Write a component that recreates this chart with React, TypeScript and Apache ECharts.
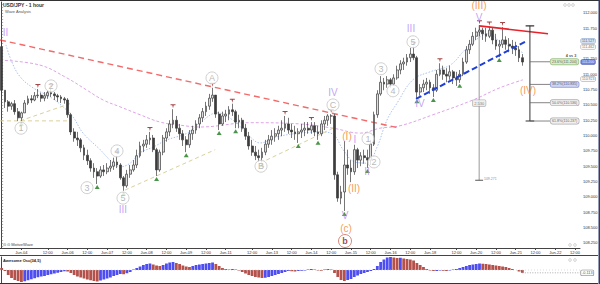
import React, { useEffect, useRef } from 'react';
import * as echarts from 'echarts';

// trading sessions (day label, first hour, last hour) – 2-hour bars
const sessions: [string, number, number][] = [
  ['Jun-02', 12, 22], ['Jun-04', 20, 22], ['Jun-05', 0, 22], ['Jun-06', 0, 22], ['Jun-07', 0, 22],
  ['Jun-08', 0, 22], ['Jun-09', 0, 22], ['Jun-11', 20, 22], ['Jun-12', 0, 22], ['Jun-13', 0, 22],
  ['Jun-14', 0, 22], ['Jun-15', 0, 22], ['Jun-16', 0, 22], ['Jun-18', 20, 22], ['Jun-19', 0, 22],
  ['Jun-20', 0, 22], ['Jun-21', 0, 22], ['Jun-22', 0, 14],
];

// visible price labels (111.500 is hidden behind the price tags, as in the reference)
const priceTicks = [108.25, 108.5, 108.75, 109, 109.25, 109.5, 109.75, 110, 110.25, 110.5, 110.75, 111, 111.25, 111.75, 112];

const firstOpen = 111.45;
const closes = [
  110.74, 110.55, 110.48, 110.52, 110.39, 110.29, 110.37, 110.53, 110.60, 110.58,
  110.65, 110.66, 110.61, 110.65, 110.70, 110.68, 110.65, 110.63, 110.60, 110.58,
  110.34, 110.06, 109.96, 109.93, 109.80, 109.68, 109.59, 109.47, 109.41, 109.34,
  109.44, 109.41, 109.47, 109.50, 109.57, 109.52, 109.31, 109.18, 109.37, 109.44,
  109.52, 109.67, 109.83, 109.86, 109.93, 109.96, 109.77, 109.44, 109.73, 109.96,
  110.06, 110.19, 110.25, 110.12, 110.03, 109.93, 109.85, 110.03, 110.09, 110.19,
  110.29, 110.39, 110.48, 110.61, 110.66, 110.35, 110.19, 110.32, 110.35, 110.42,
  110.39, 110.22, 110.25, 110.12, 109.99, 109.83, 109.73, 109.67, 109.64, 109.73,
  109.86, 109.93, 109.99, 110.03, 110.09, 110.12, 110.19, 110.09, 110.06, 110.03,
  110.06, 110.09, 110.12, 110.09, 110.16, 110.06, 110.03, 110.19, 110.25, 110.32,
  110.32, 109.36, 108.98, 109.08, 109.52, 109.47, 109.41, 109.77, 109.60, 109.67,
  109.64, 109.60, 109.86, 110.34, 110.68, 110.87, 110.84, 110.91, 110.84, 110.94,
  111.07, 111.17, 111.20, 111.27, 111.33, 111.27, 110.71, 110.78, 110.84, 110.87,
  110.78, 110.74, 111.00, 111.07, 111.00, 110.97, 111.04, 110.94, 110.91, 111.00,
  111.20, 111.40, 111.49, 111.62, 111.69, 111.72, 111.66, 111.62, 111.72, 111.56,
  111.46, 111.49, 111.56, 111.49, 111.46, 111.43, 111.40, 111.27, 111.20,
];
const highs = [
  111.56, 110.71, 110.58, 110.55, 110.58, 110.45, 110.39, 110.58, 110.65, 110.66,
  110.71, 110.76, 110.70, 110.71, 110.73, 110.76, 110.71, 110.68, 110.66, 110.63,
  110.61, 110.37, 110.12, 110.06, 109.96, 109.85, 109.77, 109.63, 109.55, 109.47,
  109.50, 109.52, 109.55, 109.60, 109.64, 109.67, 109.55, 109.34, 109.44, 109.52,
  109.60, 109.77, 109.90, 109.93, 110.01, 110.06, 110.01, 109.80, 109.77, 110.01,
  110.12, 110.25, 110.43, 110.32, 110.19, 110.09, 109.99, 110.09, 110.16, 110.25,
  110.35, 110.45, 110.55, 110.68, 110.78, 110.66, 110.39, 110.39, 110.42, 110.48,
  110.52, 110.42, 110.34, 110.29, 110.19, 110.06, 109.93, 109.83, 109.77, 109.80,
  109.93, 110.01, 110.09, 110.12, 110.16, 110.25, 110.32, 110.29, 110.19, 110.16,
  110.12, 110.19, 110.22, 110.22, 110.22, 110.22, 110.16, 110.25, 110.32, 110.35,
  110.35, 110.35, 109.41, 109.18, 109.91, 109.77, 109.60, 109.85, 109.80, 109.73,
  109.77, 109.77, 109.93, 110.39, 110.74, 110.97, 110.94, 110.97, 110.94, 111.00,
  111.14, 111.23, 111.27, 111.33, 111.43, 111.45, 111.30, 110.84, 110.91, 110.94,
  110.91, 110.84, 111.07, 111.18, 111.14, 111.10, 111.14, 111.07, 111.04, 111.07,
  111.27, 111.46, 111.56, 111.69, 111.76, 111.80, 111.76, 111.76, 111.78, 111.76,
  111.66, 111.56, 111.77, 111.62, 111.59, 111.56, 111.53, 111.46, 111.33,
];
const lows = [
  110.66, 110.45, 110.39, 110.42, 110.34, 110.24, 110.24, 110.37, 110.50, 110.53,
  110.56, 110.61, 110.55, 110.56, 110.60, 110.63, 110.58, 110.55, 110.53, 110.52,
  110.29, 110.01, 109.90, 109.83, 109.73, 109.60, 109.52, 109.41, 109.31, 109.21,
  109.31, 109.34, 109.37, 109.41, 109.44, 109.47, 109.28, 109.10, 109.15, 109.31,
  109.41, 109.47, 109.64, 109.73, 109.80, 109.85, 109.73, 109.34, 109.41, 109.68,
  109.90, 109.99, 110.12, 110.06, 109.93, 109.83, 109.73, 109.80, 109.93, 110.03,
  110.12, 110.22, 110.32, 110.42, 110.55, 110.29, 110.09, 110.16, 110.22, 110.25,
  110.32, 110.12, 110.12, 110.06, 109.93, 109.77, 109.67, 109.60, 109.57, 109.57,
  109.68, 109.80, 109.85, 109.90, 109.93, 109.99, 110.06, 110.03, 109.96, 109.93,
  109.88, 109.96, 109.99, 110.03, 110.03, 109.99, 109.93, 109.99, 110.09, 110.16,
  110.19, 109.28, 108.92, 108.88, 108.77, 109.36, 109.24, 109.36, 109.47, 109.50,
  109.54, 109.47, 109.52, 109.83, 110.29, 110.65, 110.74, 110.78, 110.78, 110.81,
  110.91, 111.00, 111.07, 111.14, 111.20, 111.23, 110.61, 110.65, 110.71, 110.74,
  110.68, 110.63, 110.71, 110.97, 110.91, 110.87, 110.91, 110.84, 110.81, 110.86,
  110.97, 111.17, 111.33, 111.46, 111.56, 111.62, 111.56, 111.53, 111.59, 111.49,
  111.40, 111.28, 111.43, 111.40, 111.36, 111.33, 111.30, 111.20, 111.14,
];

// Awesome Oscillator (34,5)
const aoValues = [
  0.08, -0.04, -0.20, -0.32, -0.40, -0.44, -0.48, -0.45, -0.41, -0.37,
  -0.33, -0.29, -0.26, -0.24, -0.20, -0.17, -0.14, -0.11, -0.08, -0.05,
  -0.06, -0.12, -0.20, -0.26, -0.30, -0.34, -0.38, -0.41, -0.44, -0.46,
  -0.42, -0.38, -0.34, -0.30, -0.24, -0.20, -0.16, -0.17, -0.13, -0.08,
  0.02, 0.08, 0.14, 0.20, 0.24, 0.26, 0.22, 0.18, 0.16, 0.20,
  0.26, 0.30, 0.32, 0.28, 0.24, 0.18, 0.14, 0.12, 0.16, 0.20,
  0.22, 0.24, 0.26, 0.28, 0.30, 0.24, 0.16, 0.08, 0.04, 0.02,
  0.04, 0.02, -0.02, -0.08, -0.14, -0.20, -0.24, -0.28, -0.30, -0.32,
  -0.31, -0.28, -0.24, -0.20, -0.16, -0.12, -0.08, -0.04, -0.05, -0.06,
  -0.04, -0.03, -0.02, 0.02, 0.04, 0.02, -0.02, -0.03, 0.02, 0.04,
  0.02, -0.12, -0.28, -0.40, -0.44, -0.40, -0.36, -0.28, -0.22, -0.16,
  -0.12, -0.08, -0.04, 0.04, 0.16, 0.32, 0.42, 0.50, 0.52, 0.50,
  0.48, 0.49, 0.46, 0.44, 0.42, 0.38, 0.28, 0.20, 0.12, 0.04,
  -0.02, -0.04, -0.04, -0.02, -0.03, -0.04, -0.02, 0.02, 0.04, 0.08,
  0.12, 0.16, 0.20, 0.22, 0.24, 0.26, 0.25, 0.24, 0.22, 0.20,
  0.18, 0.16, 0.14, 0.12, 0.08, 0.04, 0.00, -0.06, -0.113,
];

// swing markers (bar indices)
const swingHighIdx = [11, 15, 35, 45, 52, 64, 70, 86, 94, 100, 125, 133, 145, 148, 152];
const swingLowIdx = [6, 29, 37, 47, 56, 66, 71, 79, 90, 96, 104, 111, 126, 131, 139, 151];

// moving averages [bar position, price]
const fastMA: [number, number][] = [
  [1.3, 111.48], [3.1, 111.2], [5.6, 110.96], [9.5, 110.78], [14.7, 110.63], [18.6, 110.47],
  [21.7, 110.3], [24.7, 110.04], [29.9, 109.77], [32.9, 109.6], [35.9, 109.49], [39.0, 109.55],
  [42.0, 109.72], [45.9, 109.81], [50.2, 109.93], [56.3, 110.04], [60.2, 110.21], [65.4, 110.37],
  [70.2, 110.25], [75.4, 109.98], [78.4, 109.88], [83.6, 109.98], [90.5, 110.04], [96.6, 110.06],
  [100.6, 110.02], [103.6, 109.77], [107.2, 109.57], [110.9, 109.55], [113.9, 109.81],
  [116.9, 110.25], [120.0, 110.53], [124.8, 110.91], [130.0, 111.04], [136.1, 111.15],
  [140.6, 111.4], [145.2, 111.61], [148.2, 111.66], [151.2, 111.53], [156.4, 111.4], [158.2, 111.35],
];
const slowMA: [number, number][] = [
  [-0.5, 111.23], [11.6, 111.15], [19.8, 110.94], [25.9, 110.74], [30.8, 110.58], [35.9, 110.47],
  [42.0, 110.34], [48.1, 110.22], [54.1, 110.17], [60.2, 110.14], [75.4, 110.21], [90.5, 110.19],
  [100.6, 110.12], [108.8, 110.04], [114.8, 110.12], [120.9, 110.16], [130.9, 110.34],
  [143.0, 110.58], [151.2, 110.78], [158.2, 110.91],
];

// trend lines [bar position, price]
const resistanceDashed: [number, number][] = [[-0.5, 111.56], [120.9, 110.12]];
const resistanceSolid: [number, number][] = [[144.9, 111.79], [165.8, 111.66]];
const supportBlue: [number, number][] = [[125.75, 110.6], [158.8, 111.53]];
const channelLines: [number, number][][] = [
  [[-0.5, 110.24], [19.8, 110.24]],
  [[5.6, 110.24], [20.7, 110.52]],
  [[37.4, 109.11], [64.8, 109.77]],
  [[78.4, 109.55], [100.55, 110.12]],
];

// wave labels [text, bar position, price]
const minorLabels: [string, number, number][] = [
  ['II', 1.17, 111.68], ['III', 36.82, 108.8], ['IV', 100.55, 110.7], ['V', 104.19, 108.69],
  ['I', 107.22, 109.93], ['II', 110.86, 109.41], ['III', 124.22, 111.74], ['IV', 126.95, 110.53],
  ['V', 144.85, 111.93],
];
const majorLabels: [string, number, number][] = [
  ['(III)', 144.85, 112.125], ['(I)', 104.8, 109.98], ['(II)', 106.92, 109.13],
  ['(c)', 104.49, 108.48], ['(IV)', 159.7, 110.73],
];
const circledLabels: [string, number, number][] = [
  ['1', 5.87, 110.12], ['2', 14.98, 110.81], ['3', 25.9, 109.15], ['4', 35.0, 109.75],
  ['5', 36.82, 108.98], ['A', 63.83, 110.94], ['B', 78.7, 109.5], ['C', 100.55, 110.5],
  ['1', 111.17, 109.95], ['2', 112.99, 109.57], ['3', 115.11, 111.09], ['4', 118.75, 110.73],
  ['5', 124.82, 111.53],
];
const cycleLabels: [string, number, number][] = [['b', 104.19, 108.28]];

// wave (IV) retracement levels of wave (III)
const waveStart = 109.271;
const waveEnd = 111.801;
const fibRatios = [0.236, 0.382, 0.5, 0.618];
const fibColors = [
  { bg: '#cfe8bd', border: '#86b46a' },
  { bg: '#c3cbf2', border: '#6f7fc6' },
  { bg: '#ececec', border: '#9a9a9a' },
  { bg: '#ececec', border: '#9a9a9a' },
];
const priceTags = [
  { v: 111.527, bg: '#cfe0f5', border: '#6a8cc0', color: '#223', dy: -1 },
  { v: 111.462, bg: '#ffffff', border: '#888888', color: '#333', dy: 1 },
  { v: 111.2, bg: '#5b6fd8', border: '#2b3b9b', color: '#ffffff', dy: 0 },
  { v: 110.923, bg: '#ffffff', border: '#888888', color: '#333', dy: 0 },
];
const aoTag = -0.113;

const N_BARS = sessions.reduce((s, [, a, b]) => s + (b - a) / 2 + 1, 0);

const FONT = 'Liberation Sans, Arial, sans-serif';

function buildOption() {
  const cats: string[] = [];
  const tickText: string[] = [];
  sessions.forEach(([day, h0, h1], si) => {
    for (let h = h0; h <= h1; h += 2) {
      cats.push(`${day} ${String(h).padStart(2, '0')}:00`);
      let t = '';
      const afterSunday = si > 0 && sessions[si - 1][1] === 20;
      if (h === h0 && h0 !== 12 && !(h0 === 0 && afterSunday)) t = day;
      else if (h === 12 && cats.length > 1) t = '12:00';
      tickText.push(t);
    }
  });
  const maxX = N_BARS - 0.5;

  const candles = closes.map((c, i) => {
    const o = i === 0 ? firstOpen : closes[i - 1];
    return [o, c, Math.min(lows[i], o, c), Math.max(highs[i], o, c)];
  });

  const minorTicks: number[] = [];
  for (let v = 108.2; v <= 112.151; v += 0.05) minorTicks.push(+v.toFixed(2));

  const line = (data: [number, number][], style: any, extra: any = {}) => ({
    type: 'line', xAxisIndex: 1, yAxisIndex: 0, data, symbol: 'none', silent: true,
    lineStyle: style, z: 4, animation: false, ...extra,
  });

  const textSeries = (items: [string, number, number][], label: any, sym: any = {}) => ({
    type: 'scatter', xAxisIndex: 1, yAxisIndex: 0, silent: true, z: 12,
    symbol: 'circle', symbolSize: 1, itemStyle: { color: 'rgba(0,0,0,0)' },
    data: items.map(([t, x, y]) => ({ name: t, value: [x, y] })),
    label: { show: true, position: 'inside', formatter: '{b}', fontFamily: FONT, ...label },
    ...sym,
  });

  const fibLevels = fibRatios.map((r) => waveEnd - (waveEnd - waveStart) * r);
  const bracketX = 160.3;
  const boxX = 166.4;
  const measureX = 144.9;

  const series: any[] = [
    line(slowMA, { color: '#dca5e6', width: 1, type: [3, 2] }, { smooth: 0.4, z: 2 }),
    line(fastMA, { color: '#a9c1f2', width: 1, type: [1.5, 1.5] }, { smooth: 0.4, z: 2 }),
    ...channelLines.map((pts) => line(pts, { color: '#d9d19c', width: 1, type: [4, 3] }, { z: 2 })),
    line(resistanceDashed, { color: '#f36a6a', width: 1.4, type: [6, 4] }, { z: 3 }),
    {
      type: 'candlestick', xAxisIndex: 0, yAxisIndex: 0, data: candles, barWidth: 2.3, z: 5,
      itemStyle: { color: '#dedede', color0: '#3c3c3c', borderColor: '#3c3c3c', borderColor0: '#3c3c3c', borderWidth: 0.7 },
      silent: true,
    },
    line(resistanceSolid, { color: '#e8222b', width: 1.6 }, { z: 6 }),
    line(supportBlue, { color: '#1f3fd6', width: 2, type: [6, 3] }, { z: 6 }),
    {
      type: 'scatter', xAxisIndex: 0, yAxisIndex: 0, silent: true, z: 8,
      symbol: 'path://M0 0H10V2H6.5L5 8L3.5 2H0Z', symbolSize: [5, 4], symbolOffset: [0, -3],
      itemStyle: { color: '#8c1c1c' },
      data: swingHighIdx.map((i) => [i, highs[i]]),
    },
    {
      type: 'scatter', xAxisIndex: 0, yAxisIndex: 0, silent: true, z: 8,
      symbol: 'triangle', symbolSize: [5, 4], symbolOffset: [0, 3],
      itemStyle: { color: '#1e7a1e' },
      data: swingLowIdx.map((i) => [i, lows[i]]),
    },
    // measurement of wave (III)
    line([[measureX, waveEnd], [measureX, waveStart]], { color: '#9a9a9a', width: 1 }, { z: 3 }),
    line([[measureX - 1.2, waveStart], [measureX + 1.2, waveStart]], { color: '#555', width: 1 }, { z: 3 }),
    textSeries([[(waveEnd - waveStart).toFixed(3), measureX, 110.53]], {
      color: '#555', fontSize: 4, backgroundColor: '#eeeeee', borderColor: '#a0a0a0', borderWidth: 0.6, padding: [1, 1.5], borderRadius: 1,
    }),
    textSeries([[waveStart.toFixed(3), measureX + 1.3, 109.29]], { color: '#666', fontSize: 3.5, position: 'right', distance: 0 }),
    // wave (IV) bracket
    line([[bracketX, waveEnd - 0.01], [bracketX, fibLevels[3]]], { color: '#333', width: 1 }, { z: 7 }),
    line([[bracketX - 1.3, waveEnd - 0.01], [bracketX + 1.3, waveEnd - 0.01]], { color: '#333', width: 1.2 }, { z: 7 }),
    line([[bracketX - 1.3, fibLevels[3]], [bracketX + 1.3, fibLevels[3]]], { color: '#333', width: 1.2 }, { z: 7 }),
    ...fibLevels.map((lv) => line([[bracketX, lv], [boxX, lv]], { color: '#666', width: 0.8 }, { z: 7 })),
    ...fibLevels.map((lv, k) => textSeries(
      [[`${(fibRatios[k] * 100).toFixed(1)}%(${lv.toFixed(3)})`, boxX, lv]],
      { position: 'right', distance: 0, color: '#333', fontSize: 3.6, backgroundColor: fibColors[k].bg, borderColor: fibColors[k].border, borderWidth: 0.6, padding: [0.8, 1.5], borderRadius: 2 },
    )),
    textSeries([['4 vs 3', 172.8, 111.29]], { color: '#222', fontSize: 3.8, fontWeight: 'bold' }),
    // price tags on the axis
    ...priceTags.map((tg) => textSeries([[tg.v.toFixed(3), maxX - 0.3, tg.v]], {
      position: 'right', distance: 1.5, offset: [0, tg.dy], color: tg.color, fontSize: 3.5, backgroundColor: tg.bg,
      borderColor: tg.border, borderWidth: 0.5, padding: [0.2, 1], borderRadius: 1,
    })),
    // wave labels
    textSeries(minorLabels, { color: '#b38df2', fontSize: 10 }),
    textSeries(majorLabels, { color: '#f2832c', fontSize: 10 }),
    textSeries(circledLabels, { color: '#a6a6a6', fontSize: 9 }, {
      symbolSize: 12, itemStyle: { color: '#ffffff', borderColor: '#c4c4c4', borderWidth: 1 },
    }),
    textSeries(cycleLabels, { color: '#8b1414', fontSize: 9, fontWeight: 'bold' }, {
      symbolSize: 13, itemStyle: { color: '#ffffff', borderColor: '#cf6a5a', borderWidth: 1 },
    }),
    // Awesome oscillator
    {
      type: 'bar', xAxisIndex: 2, yAxisIndex: 1, barCategoryGap: '15%', silent: true,
      data: aoValues.map((v, i) => ({
        value: v,
        itemStyle: { color: i > 0 && v >= aoValues[i - 1] ? '#4d4df2' : '#b4514b' },
      })),
    },
    {
      type: 'line', xAxisIndex: 3, yAxisIndex: 1, symbol: 'none', silent: true,
      data: [[-0.5, 0], [maxX, 0]], lineStyle: { color: '#c8c8c8', width: 0.6, type: [1, 2] },
    },
    {
      type: 'line', xAxisIndex: 3, yAxisIndex: 1, symbol: 'none', silent: true,
      data: [[aoValues.length - 1, aoTag], [maxX, aoTag]], lineStyle: { color: '#888', width: 0.7, type: [1, 1.5] },
    },
    {
      type: 'scatter', xAxisIndex: 3, yAxisIndex: 1, silent: true, symbol: 'circle', symbolSize: 1,
      itemStyle: { color: 'rgba(0,0,0,0)' }, data: [{ name: aoTag.toFixed(3), value: [maxX - 0.3, aoTag] }],
      label: { show: true, position: 'right', distance: 1.5, formatter: '{b}', fontSize: 3.8, fontFamily: FONT, color: '#222', backgroundColor: '#fff', borderColor: '#666', borderWidth: 0.6, padding: [0.6, 1], borderRadius: 1 },
    },
  ];

  const icon = (x: number, y: number) => ({ type: 'circle', shape: { cx: x, cy: y, r: 1.3 }, style: { fill: 'none', stroke: '#aaa', lineWidth: 0.6 } });

  return {
    animation: false,
    backgroundColor: '#ffffff',
    grid: [
      { left: 0, top: 2, width: 580, height: 246, containLabel: false, outerBoundsMode: 'none' },
      { left: 0, top: 257, width: 580, height: 26, containLabel: false, outerBoundsMode: 'none' },
    ],
    xAxis: [
      {
        type: 'category', gridIndex: 0, data: cats, boundaryGap: true,
        axisLine: { show: true, lineStyle: { color: '#444', width: 1 } },
        axisTick: { show: true, alignWithLabel: true, length: 2, interval: (i: number) => tickText[i] !== '', lineStyle: { color: '#444' } },
        axisLabel: { interval: (i: number) => tickText[i] !== '', formatter: (_v: string, i: number) => tickText[i], fontSize: 4, color: '#333', margin: 2.5, fontFamily: FONT },
        splitLine: { show: false },
      },
      { type: 'value', gridIndex: 0, min: -0.5, max: maxX, show: false },
      { type: 'category', gridIndex: 1, data: cats, boundaryGap: true, show: false },
      { type: 'value', gridIndex: 1, min: -0.5, max: maxX, show: false },
    ],
    yAxis: [
      {
        type: 'value', gridIndex: 0, position: 'right', min: 108.166, max: 112.179, scale: true,
        axisLine: { show: true, lineStyle: { color: '#444', width: 1 } },
        axisTick: { show: true, customValues: minorTicks, length: 1.5, lineStyle: { color: '#777', width: 0.6 } },
        axisLabel: { customValues: priceTicks, formatter: (v: number) => v.toFixed(3), fontSize: 4, color: '#333', margin: 3, fontFamily: FONT },
        splitLine: { show: false },
      },
      {
        type: 'value', gridIndex: 1, position: 'right', min: -0.52, max: 0.52,
        axisLine: { show: true, lineStyle: { color: '#444', width: 1 } },
        axisTick: { show: false }, axisLabel: { show: false }, splitLine: { show: false },
      },
    ],
    series,
    graphic: [
      { type: 'rect', shape: { x: 0, y: 0, width: 600, height: 1 }, style: { fill: '#333' }, z: 100 },
      { type: 'rect', shape: { x: 598.5, y: 0, width: 1.5, height: 284 }, style: { fill: '#2c3d6e' }, z: 100 },
      { type: 'line', shape: { x1: 0, y1: 255.5, x2: 598, y2: 255.5 }, style: { stroke: '#444', lineWidth: 1 }, z: 100 },
      { type: 'line', shape: { x1: 0, y1: 283.5, x2: 598, y2: 283.5 }, style: { stroke: '#333', lineWidth: 1 }, z: 100 },
      { type: 'text', x: 3, y: 2.5, style: { text: 'USD/JPY - 1 hour', fontSize: 5, fontWeight: 'bold', fill: '#333', fontFamily: FONT }, z: 100 },
      { type: 'text', x: 5, y: 9.5, style: { text: 'Wave Analysis', fontSize: 4, fill: '#555', fontFamily: FONT }, z: 100 },
      { type: 'text', x: 3, y: 242, style: { text: '⊙ ⊙ MotiveWave', fontSize: 4, fill: '#444', fontFamily: FONT }, z: 100 },
      { type: 'text', x: 3, y: 258, style: { text: 'Awesome Osc(34,5)', fontSize: 4, fontWeight: 'bold', fill: '#222', fontFamily: FONT }, z: 100 },
      icon(565, 5), icon(569, 5), icon(573, 5),
      icon(570, 245), icon(575, 245),
      icon(570, 260), icon(575, 260),
    ],
  };
}

export default function App() {
  const ref = useRef<HTMLDivElement>(null);
  useEffect(() => {
    if (!ref.current) return;
    const chart = echarts.init(ref.current, null, { renderer: 'svg' });
    chart.setOption(buildOption() as any);
    return () => chart.dispose();
  }, []);
  return <div ref={ref} style={{ position: 'absolute', left: 0, top: 0, width: 600, height: 284 }} />;
}
